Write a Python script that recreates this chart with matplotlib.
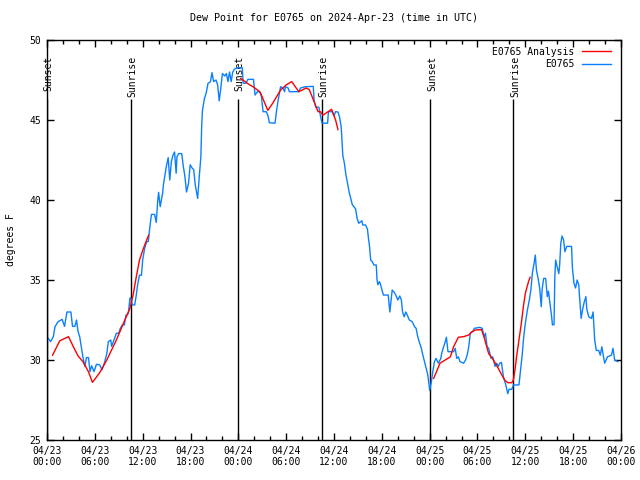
import numpy as np
import matplotlib
matplotlib.use('Agg')
import matplotlib.pyplot as plt
from matplotlib.ticker import MultipleLocator
from matplotlib.lines import Line2D

# hours since 2024-04-23 00:00 UTC
obs_hours = [0.0, 0.45, 0.8, 1.0, 1.4, 1.9, 2.2, 2.5, 3.0, 3.2, 3.5, 3.7, 3.9, 4.1, 4.3, 4.5, 4.75, 4.95, 5.2, 5.4,
             5.6, 5.9, 6.2, 6.6, 6.9, 7.25, 7.5, 7.7, 8.0, 8.1, 8.4, 8.7, 9.0, 9.2, 9.45, 9.7, 9.9, 10.2, 10.4, 10.5,
             10.7, 11.0, 11.2, 11.4, 11.6, 11.85, 12.0, 12.25, 12.5, 12.7, 12.9, 13.1, 13.5, 13.7, 13.9, 14.0, 14.2,
             14.5, 14.6, 14.8, 14.96, 15.2, 15.4, 15.6, 15.8, 16.0, 16.2, 16.3, 16.5, 16.9, 17.1, 17.3, 17.5, 17.75,
             17.96, 18.2, 18.4, 18.6, 18.8, 18.9, 19.1, 19.3, 19.4, 19.5, 19.75, 19.96, 20.2, 20.4, 20.5, 20.7, 20.9,
             21.2, 21.4, 21.6, 21.8, 22.0, 22.3, 22.5, 22.7, 22.9, 23.1, 23.3, 23.5, 23.9, 24.5, 24.6, 24.96, 25.2,
             25.9, 26.1, 26.4, 26.7, 26.9, 27.1, 27.5, 27.7, 27.9, 28.6, 28.8, 29.0, 29.3, 29.6, 29.8, 29.9, 30.25,
             30.4, 31.6, 31.8, 32.4, 33.4, 33.5, 33.7, 34.1, 34.3, 34.5, 35.2, 35.3, 35.8, 36.0, 36.2, 36.5, 36.7,
             36.9, 37.0, 37.1, 37.3, 37.5, 37.7, 37.9, 38.1, 38.3, 38.7, 38.9, 39.1, 39.5, 39.6, 39.96, 40.2, 40.3,
             40.46, 40.6, 40.8, 41.0, 41.3, 41.4, 41.5, 41.7, 41.85, 42.0, 42.2, 42.8, 43.0, 43.2, 43.3, 43.6, 43.8,
             44.0, 44.25, 44.45, 44.6, 44.8, 45.0, 45.2, 45.45, 45.8, 46.1, 46.3, 46.5, 46.75, 46.96, 47.1, 47.3,
             47.5, 47.75, 47.9, 48.0, 48.2, 48.4, 48.6, 48.8, 49.1, 49.4, 49.5, 49.75, 49.9, 50.1, 50.3, 51.0, 51.2,
             51.4, 51.6, 51.8, 52.25, 52.5, 52.7, 52.9, 53.1, 53.4, 53.6, 54.3, 54.6, 54.8, 55.0, 55.2, 55.4, 55.7,
             55.9, 56.2, 56.4, 56.6, 56.8, 57.0, 57.25, 57.5, 57.8, 57.96, 58.3, 58.5, 59.2, 59.4, 59.6, 59.8, 60.0,
             60.25, 60.5, 60.7, 60.9, 61.1, 61.25, 61.4, 61.6, 61.8, 62.0, 62.1, 62.3, 62.55, 62.75, 62.9, 63.0,
             63.3, 63.4, 63.6, 63.7, 63.8, 64.0, 64.2, 64.3, 64.45, 64.6, 64.8, 64.96, 65.2, 65.8, 65.9, 66.1, 66.3,
             66.5, 66.7, 66.8, 67.0, 67.2, 67.4, 67.6, 67.7, 67.96, 68.3, 68.5, 68.7, 68.9, 69.2, 69.4, 69.6, 69.8,
             69.96, 70.3, 70.8, 71.0, 71.2, 71.6]
obs_dewpt = [31.46, 31.15, 31.46, 32.08, 32.4, 32.54, 32.1, 33.0, 33.0, 32.1, 32.1, 32.5, 31.77, 31.46, 30.83, 30.2,
             29.6, 30.15, 30.15, 29.27, 29.64, 29.27, 29.73, 29.7, 29.38, 29.9, 30.4, 31.15, 31.25, 30.85, 31.25,
             31.67, 31.67, 31.98, 32.19, 32.19, 32.8, 32.9, 33.85, 33.9, 33.44, 33.44, 34.06, 34.8, 35.3, 35.3, 36.25,
             36.98, 37.4, 37.4, 38.3, 39.1, 39.1, 38.6, 40.0, 40.48, 39.58, 40.42, 40.94, 41.56, 42.08, 42.65, 41.25,
             42.4, 42.8, 43.0, 41.67, 42.7, 42.9, 42.9, 42.1, 41.46, 40.5, 41.04, 42.2, 42.0, 41.9, 40.94, 40.4, 40.1,
             41.46, 42.7, 44.58, 45.6, 46.35, 46.67, 47.3, 47.35, 47.4, 47.96, 47.4, 47.5, 47.2, 46.2, 46.98, 47.9,
             47.75, 47.9, 47.4, 48.0, 47.4, 48.0, 48.17, 48.27, 48.27, 47.3, 47.3, 47.54, 47.54, 46.56, 46.77, 46.77,
             46.46, 45.52, 45.52, 45.3, 44.83, 44.8, 45.6, 46.25, 47.08, 47.0, 46.77, 47.08, 47.0, 46.77, 46.77,
             47.0, 47.08, 47.1, 46.25, 45.8, 45.8, 45.25, 44.8, 44.8, 45.52, 45.52, 45.25, 45.52, 45.5, 45.17, 44.58,
             43.75, 42.8, 42.3, 41.56, 41.04, 40.5, 40.1, 39.7, 39.45, 38.85, 38.55, 38.7, 38.44, 38.44, 38.17, 37.7,
             37.08, 36.25, 36.15, 35.94, 35.94, 35.0, 34.7, 34.9, 34.7, 34.4, 34.06, 34.06, 33.0, 33.96, 34.375,
             34.2, 34.0, 33.75, 34.0, 33.75, 33.0, 32.7, 33.0, 32.8, 32.5, 32.4, 32.08, 31.98, 31.46, 31.04, 30.73,
             30.4, 30.0, 29.6, 29.1, 28.54, 28.1, 28.6, 29.3, 29.9, 30.1, 29.8, 30.1, 30.4, 30.83, 31.04, 31.42,
             30.52, 30.52, 30.73, 30.1, 30.2, 29.9, 29.8, 30.0, 30.3, 30.83, 31.67, 31.77, 31.98, 32.04, 31.98,
             31.46, 31.67, 30.83, 30.73, 30.1, 30.2, 29.6, 29.8, 29.6, 29.8, 29.85, 28.96, 28.54, 27.9, 28.17, 28.17,
             28.44, 28.44, 29.38, 30.3, 31.46, 32.3, 33.1, 33.75, 34.4, 35.5, 36.04, 36.56, 35.6, 35.1, 34.5, 33.33,
             34.4, 35.1, 35.1, 33.96, 34.3, 33.9, 32.7, 32.2, 32.2, 35.2, 36.25, 35.8, 35.4, 35.9, 37.3, 37.75, 37.5,
             36.77, 37.1, 37.1, 35.8, 34.8, 34.5, 35.0, 34.7, 33.96, 32.6, 33.2, 33.65, 33.96, 33.2, 32.7, 32.6,
             33.0, 31.25, 30.6, 30.6, 30.3, 30.83, 30.2, 29.8, 30.2, 30.3, 30.73, 30.0, 29.9]

# analysis, gaps marked with nan
ana_hours = [0.7, 1.6, 2.7, 3.3, 3.9, 4.5, 5.2, 5.7, 6.6, 7.5, 8.7, 9.5, 10.4, 10.8, 11.2, 11.6, 12.1, 12.5, 12.75,
             13.0,
             24.3, 25.4, 25.8, 26.6, 26.8, 27.7, 28.3, 29.3, 30.0, 30.7, 31.2, 31.6, 32.5, 32.9, 33.5, 34.0, 34.3,
             34.6, 35.2, 35.7, 35.9, 36.2, 36.5,
             37.0,
             48.5, 49.3, 50.6, 51.0, 51.6, 52.25, 52.9, 53.3, 53.8, 54.5, 54.75, 55.4, 56.0, 56.6, 57.4, 57.8, 58.3,
             58.5, 58.7, 58.9, 59.2, 59.5, 59.75, 60.0, 60.4, 60.6]
ana_dewpt = [30.3, 31.2, 31.46, 30.83, 30.25, 29.9, 29.27, 28.6, 29.2, 30.0, 31.25, 32.19, 33.23, 34.06, 35.2, 36.25,
             36.98, 37.5, 37.8,
             np.nan,
             47.6, 47.2, 47.1, 46.8, 46.67, 45.6, 46.04, 46.875, 47.19, 47.4, 47.04, 46.77, 47.0, 46.9, 46.15, 45.52,
             45.52, 45.3, 45.5, 45.67, 45.4, 45.0, 44.4,
             np.nan,
             28.85, 29.8, 30.2, 30.83, 31.42, 31.46, 31.56, 31.77, 31.88, 31.9, 31.56, 30.4, 30.0, 29.48, 28.75,
             28.58, 28.58, 28.75, 29.38, 30.2, 31.25, 32.3, 33.33, 34.17, 34.9, 35.17]

sun_hours = [0.0, 10.5, 23.9, 34.45, 48.1, 58.5]
sun_labels = ['Sunset', 'Sunrise', 'Sunset', 'Sunrise', 'Sunset', 'Sunrise']

tick_hours = list(range(0, 73, 6))
tick_labels = ['04/23\n00:00', '04/23\n06:00', '04/23\n12:00', '04/23\n18:00',
               '04/24\n00:00', '04/24\n06:00', '04/24\n12:00', '04/24\n18:00',
               '04/25\n00:00', '04/25\n06:00', '04/25\n12:00', '04/25\n18:00', '04/26\n00:00']

plt.rcParams['font.family'] = 'DejaVu Sans Mono'
plt.rcParams['font.size'] = 7

fig = plt.figure(figsize=(6.4, 4.8), dpi=100)
ax = fig.add_axes([47/640, 40/480, 574/640, 400/480])

red = '#ff0000'
blue = '#0a80ff'

for h, lab in zip(sun_hours, sun_labels):
    ax.vlines(h, 25, 46.3, color='black', lw=1.0, zorder=1)
    ax.text(h + 0.2, 49.0, lab, rotation=90, ha='center', va='top', fontsize=7, zorder=1)

ax.plot(obs_hours, obs_dewpt, color=blue, lw=1.0, zorder=2)
ax.plot(ana_hours, ana_dewpt, color=red, lw=1.0, zorder=3)

ax.set_xlim(0, 72)
ax.set_ylim(25, 50)
ax.set_xticks(tick_hours)
ax.set_xticklabels(tick_labels)
ax.xaxis.set_minor_locator(MultipleLocator(2))
ax.set_yticks([25, 30, 35, 40, 45, 50])
ax.tick_params(which='both', direction='in', top=True, right=True, width=1, pad=4)
ax.tick_params(which='major', length=5)
ax.tick_params(which='minor', length=3)
for s in ax.spines.values():
    s.set_linewidth(1.0)

ax.set_ylabel('degrees F', labelpad=10)
ax.set_title('Dew Point for E0765 on 2024-Apr-23 (time in UTC)', fontsize=7.2, pad=14)

handles = [Line2D([], [], color=red, lw=1.0), Line2D([], [], color=blue, lw=1.0)]
ax.legend(handles, ['E0765 Analysis', 'E0765'], loc='upper right', bbox_to_anchor=(0.995, 1.0),
          frameon=False, markerfirst=False, handlelength=3.0, handletextpad=0.8,
          labelspacing=0.25, borderpad=0.2, fontsize=7)

fig.savefig('out.png', dpi=100)
